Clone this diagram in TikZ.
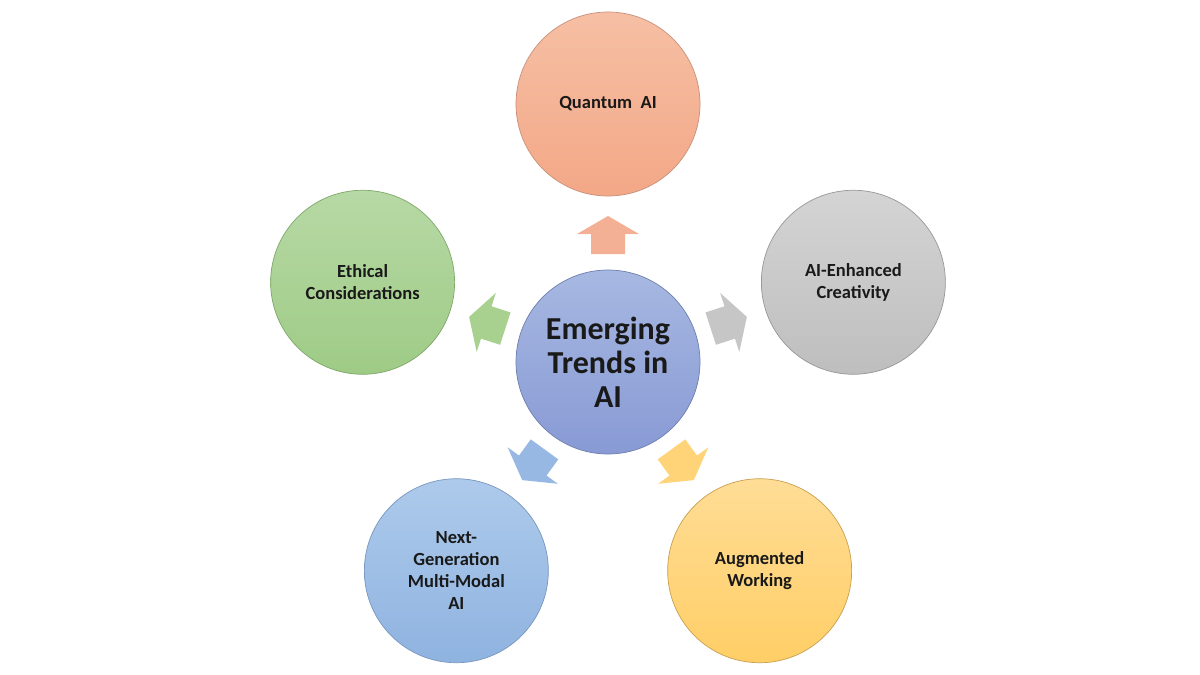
\documentclass[tikz,border=0pt]{standalone}
\usepackage{fontspec}
\setmainfont{Carlito}
\usetikzlibrary{calc}
\definecolor{qtop}{HTML}{F6BFA4}\definecolor{qbot}{HTML}{F3A887}\definecolor{qline}{HTML}{C8907A}
\definecolor{gtop}{HTML}{D4D4D4}\definecolor{gbot}{HTML}{BEBEBE}\definecolor{gline}{HTML}{979797}
\definecolor{ytop}{HTML}{FFDD96}\definecolor{ybot}{HTML}{FFCE66}\definecolor{yline}{HTML}{C79F50}
\definecolor{btop}{HTML}{ADCAEB}\definecolor{bbot}{HTML}{8FB3E0}\definecolor{bline}{HTML}{7896BE}
\definecolor{ltop}{HTML}{B7D9A5}\definecolor{lbot}{HTML}{9ECB86}\definecolor{lline}{HTML}{7EA769}
\definecolor{ctop}{HTML}{A7B8E2}\definecolor{cbot}{HTML}{889AD4}\definecolor{cline}{HTML}{6E7FAE}
\definecolor{qarrow}{HTML}{F4B094}\definecolor{garrow}{HTML}{C6C6C6}\definecolor{yarrow}{HTML}{FFD378}
\definecolor{barrow}{HTML}{96B8E3}\definecolor{larrow}{HTML}{A8D08F}
\begin{document}
\begin{tikzpicture}[x=1pt,y=1pt,
  bubble/.style={circle, minimum size=184pt, inner sep=0pt, line width=0.7pt,
    align=center, text=black!90, font=\bfseries\fontsize{18.5}{22}\selectfont},
  qbub/.style={bubble, top color=qtop, bottom color=qbot, draw=qline},
  gbub/.style={bubble, top color=gtop, bottom color=gbot, draw=gline},
  ybub/.style={bubble, top color=ytop, bottom color=ybot, draw=yline},
  bbub/.style={bubble, top color=btop, bottom color=bbot, draw=bline},
  lbub/.style={bubble, top color=ltop, bottom color=lbot, draw=lline},
  cbub/.style={bubble, top color=ctop, bottom color=cbot, draw=cline,
    font=\bfseries\fontsize{32}{34}\selectfont},
  blockarrow/.style={draw=none, fill=#1}
]
\useasboundingbox (0,0) rectangle (1200,-675);
\fill[white] (0,0) rectangle (1200,-675);
\coordinate (O) at (608,-362);
% block arrows
\foreach \ang/\col in {90/qarrow, 18/garrow, -54/yarrow, -126/barrow, 162/larrow}{
  \begin{scope}[shift={(O)}, rotate=\ang-90]
    \fill[blockarrow=\col] (0,146) -- (31,128) -- (17,128) -- (17,108)
      -- (-17,108) -- (-17,128) -- (-31,128) -- cycle;
  \end{scope}
}
\node[cbub] (center) at (O) {Emerging\\Trends in\\AI};
\node[qbub] (quantum) at ($(O)+(90:258)$) {Quantum\ \ AI};
\node[gbub] (creativity) at ($(O)+(18:258)$) {AI-Enhanced\\Creativity};
\node[ybub] (working) at ($(O)+(-54:258)$) {Augmented\\Working};
\node[bbub] (multimodal) at ($(O)+(-126:258)$) {Next-\\Generation\\Multi-Modal\\AI};
\node[lbub] (ethical) at ($(O)+(162:258)$) {Ethical\\Considerations};
\end{tikzpicture}
\end{document}
